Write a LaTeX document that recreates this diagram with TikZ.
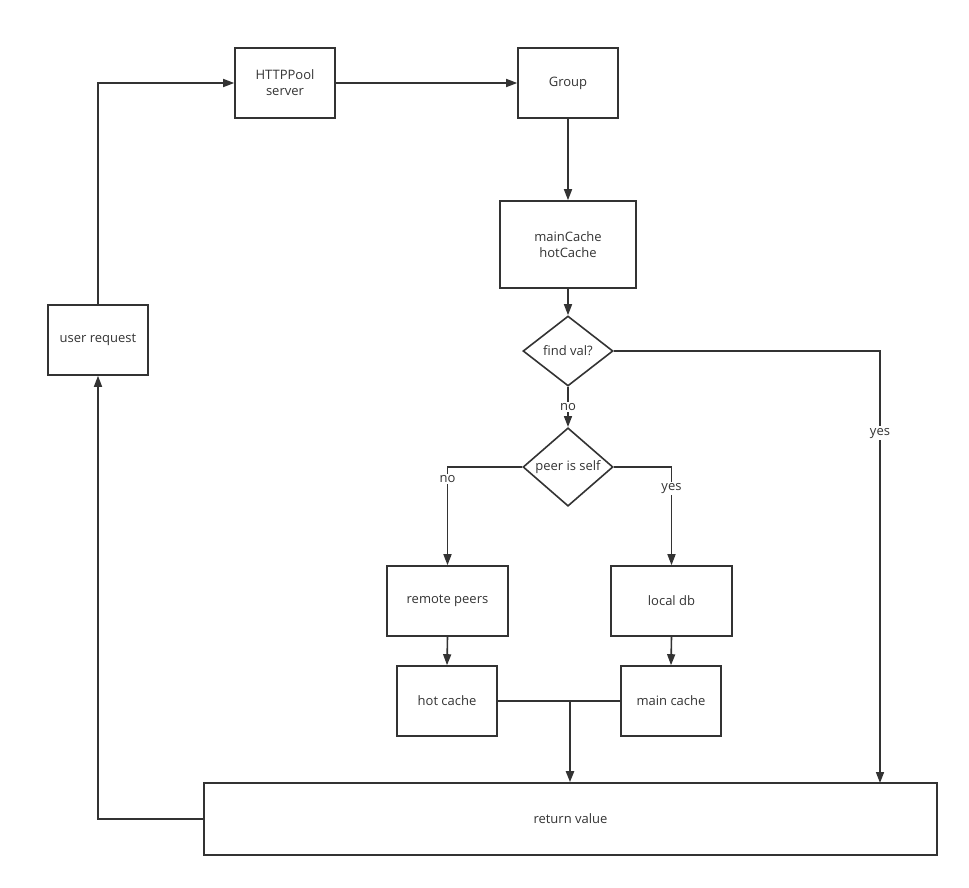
\documentclass[tikz,border=0pt]{standalone}
\usepackage{fontspec}
\setmainfont{Open Sans}
\usetikzlibrary{arrows.meta,shapes.geometric}
\definecolor{ink}{HTML}{333333}
\begin{document}
\begin{tikzpicture}[x=1pt,y=-1pt,
  every node/.style={font=\fontsize{13}{16}\selectfont, text=ink},
  box/.style={draw=ink, line width=1.6pt, rectangle, inner sep=0pt, align=center},
  dia/.style={draw=ink, line width=1.6pt, diamond, inner sep=0pt, minimum width=90pt, minimum height=70pt, align=center},
  conn/.style={draw=ink, line width=1.6pt},
  arr/.style={conn, -{Triangle[length=11pt,width=8pt]}},
  lbl/.style={fill=white, inner sep=1.5pt}
]
\useasboundingbox (0,0) rectangle (969,887);
\node[box, minimum width=100pt, minimum height=70pt] (http) at (285,83) {HTTPPool\\server};
\node[box, minimum width=100pt, minimum height=70pt] (group) at (568,83) {Group};
\node[box, minimum width=136pt, minimum height=87pt] (mc) at (568,244.5) {mainCache\\hotCache};
\node[dia] (fv) at (568,351) {find val?};
\node[dia] (pis) at (568,467) {peer is self};
\node[box, minimum width=100pt, minimum height=70pt] (ur) at (98,340) {user request};
\node[box, minimum width=121pt, minimum height=70pt] (rp) at (447.5,601) {remote peers};
\node[box, minimum width=121pt, minimum height=70pt] (ldb) at (671.5,601) {local db};
\node[box, minimum width=100pt, minimum height=70pt] (hc) at (447,701) {hot cache};
\node[box, minimum width=100pt, minimum height=70pt] (mnc) at (671,701) {main cache};
\node[box, minimum width=733pt, minimum height=72pt] (rv) at (570.5,819) {return value};
\coordinate (j) at (570,701);
\coordinate (ry) at (880,783);

\draw[arr] (ur.north) |- (http.west);
\draw[arr] (http.east) -- (group.west);
\draw[arr] (group.south) -- (mc.north);
\draw[arr] (mc.south) -- (fv.north);
\draw[arr] (fv.south) -- node[lbl, pos=0.5] {no} (pis.north);
\draw[arr] (fv.east) -| node[lbl, pos=0.595] {yes} (ry);
\draw[arr] (pis.west) -| node[lbl, pos=0.56] {no} (rp.north);
\draw[arr] (pis.east) -| node[lbl, pos=0.61] {yes} (ldb.north);
\draw[arr] (rp.south) -- (hc.north);
\draw[arr] (ldb.south) -- (mnc.north);
\draw[conn] (hc.east) -- (j);
\draw[conn] (mnc.west) -- (j);
\draw[arr, line width=2.2pt] (j) -- (j |- rv.north);
\draw[arr] (rv.west) -| (ur.south);
\end{tikzpicture}
\end{document}
